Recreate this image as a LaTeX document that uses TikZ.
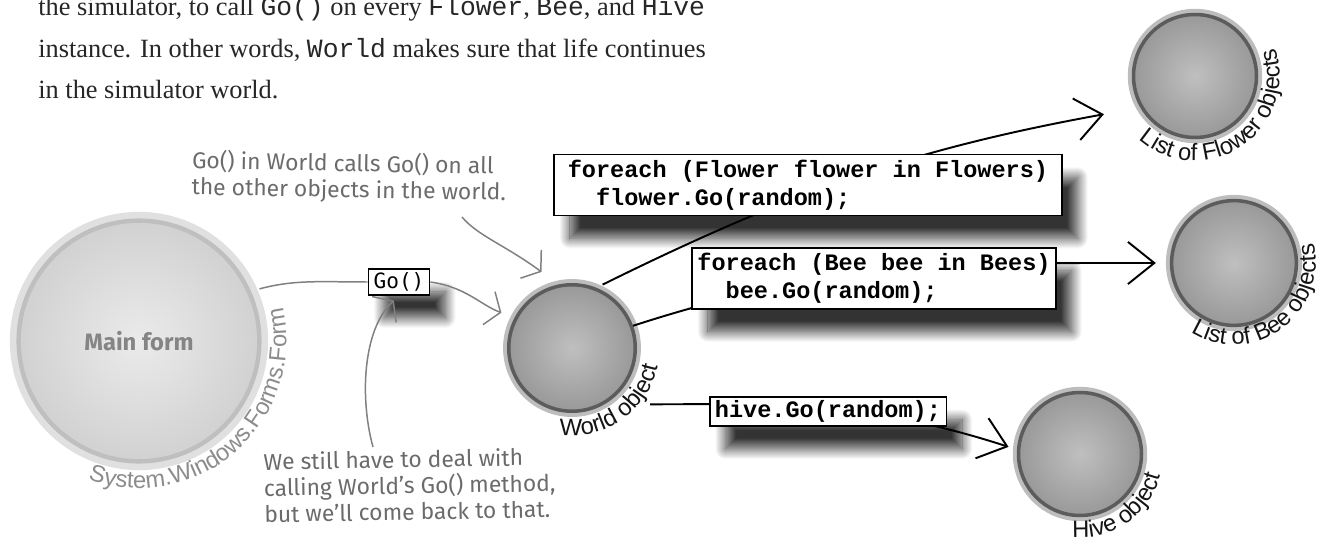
\documentclass[tikz,border=0pt]{standalone}
\usepackage{fontspec}
\setmainfont{Liberation Serif}
\setsansfont{Liberation Sans}
\setmonofont{Liberation Mono}
\newfontfamily\handfont{Fira Sans}
\newfontfamily\gofont{DejaVu Sans Mono}
\usetikzlibrary{arrows.meta, positioning, calc, shadows, shadows.blur, decorations.text}

\newcommand\arcfont{\sffamily\fontsize{13.5}{16}\selectfont}

\tikzset{%
   % grey object balls, with a dark rim and a soft halo round them
   objball/.style={
      circle,
      inner sep=0pt,
      minimum size=#1,
      inner color=black!25,
      outer color=black!40,
      draw=black!64,
      line width=2pt,
      preaction={draw=black!26, line width=6.5pt}
   },
   formball/.style={
      circle,
      inner sep=0pt,
      minimum size=#1,
      inner color=black!8,
      outer color=black!18,
      draw=black!25,
      line width=2.5pt,
      preaction={draw=black!12, line width=10pt},
      text=black!48,
      font=\handfont\bfseries\fontsize{13.5}{16}\selectfont
   },
   codebox/.style={
      draw=black,
      line width=0.9pt,
      fill=white,
      inner xsep=3pt,
      inner ysep=3pt,
      align=left,
      font=\ttfamily\bfseries\fontsize{13.4}{15.9}\selectfont,
      blur shadow={shadow xshift=9pt, shadow yshift=-13pt,
                   shadow blur radius=6pt, shadow blur steps=28,
                   shadow opacity=80}
   },
   gobox/.style={
      codebox,
      inner ysep=2pt,
      font=\gofont\fontsize{12}{14}\selectfont
   },
   booktext/.style={
      anchor=base west,
      inner sep=0pt,
      text=black!85,
      font=\fontsize{15}{23.5}\selectfont
   },
   note/.style={
      anchor=north west,
      inner sep=0pt,
      align=left,
      text=black!58,
      font=\handfont\fontsize{13}{14.9}\selectfont
   },
   callline/.style={draw=black!50, line width=0.85pt},
   callarrow/.style={callline, -{Straight Barb[length=7pt, width=20pt]}},
   codeline/.style={draw=black, line width=1.1pt},
   codearrow/.style={codeline, -{Straight Barb[length=15pt, width=24pt]}},
   arclabel/.style={
      decorate,
      decoration={text along path, text align=center, text color=black!92,
                  text={|\arcfont|#1}}
   },
   formlabel/.style={
      decorate,
      decoration={text along path, text align=center, text color=black!45,
                  text={|\arcfont|#1}}
   },
}

\begin{document}
\begin{tikzpicture}[x=0.02cm, y=0.02cm]
    \useasboundingbox (0,0) rectangle (1326,-544);
    \clip (0,0) rectangle (1326,-544);

    % page text above the picture
    \node[booktext] (para1) at (38,-16) {the simulator, to call \texttt{Go()} on every \texttt{Flower}, \texttt{Bee}, and \texttt{Hive}};
    \node[booktext] (para2) at (38,-58) {instance. In other words, \texttt{World} makes sure that life continues};
    \node[booktext] (para3) at (38,-99) {in the simulator world.};

    % objects
    \node[formball=137pt] (mainform) at (139,-341) {Main form};
    \node[objball=72pt] (world) at (572,-348) {};
    \node[objball=70pt] (flowers) at (1195,-76) {};
    \node[objball=71pt] (bees) at (1234,-263) {};
    \node[objball=70pt] (hive) at (1080,-454) {};

    \path[formlabel={System.Windows.Forms.Form}] ($(mainform)+(-120:83.9pt)$) arc[start angle=-120, end angle=23, radius=83.9pt];
    \path[arclabel={World object}] ($(world)+(-110:49.9pt)$) arc[start angle=-110, end angle=0, radius=49.9pt];
    \path[arclabel={List of Flower objects}] ($(flowers)+(-146:48.2pt)$) arc[start angle=-146, end angle=34, radius=48.2pt];
    \path[arclabel={List of Bee objects}] ($(bees)+(-136:46.5pt)$) arc[start angle=-136, end angle=28, radius=46.5pt];
    \path[arclabel={Hive object}] ($(hive)+(-110:47.6pt)$) arc[start angle=-110, end angle=0, radius=47.6pt];

    % World calls Go() on everything else
    \draw[codearrow, shorten <=4pt, shorten >=21pt] (world.68) to[bend left=8] (flowers.210);
    \draw[codearrow, shorten >=8pt] (world.20) to[out=18, in=180] (bees.west);
    \draw[codearrow, shorten <=26pt, shorten >=5pt] (world.-60) to[out=0, in=162] (hive.176);

    \node[codebox, minimum width=289pt] (flowerbox) at (808,-185) {foreach (Flower flower in Flowers)\\\phantom{xx}flower.Go(random);};
    \node[codebox] (beebox) at (874,-278.5) {foreach (Bee bee in Bees)\\\phantom{xx}bee.Go(random);};
    \node[codebox, inner ysep=2pt] (hivebox) at (828,-411.5) {hive.Go(random);};

    % the form calls Go() on the World
    \node[gobox] (gocall) at (399,-282) {Go()};
    \draw[callline, shorten <=5pt] (mainform.24) to[out=15, in=180] (gocall.west);
    \draw[callarrow, shorten >=8pt] (gocall.east) to[out=-8, in=160] (world.152);

    % handwritten notes
    \node[note, rotate=-1] (worldnote) at (192,-149) {Go() in World calls Go() on all\\the other objects in the world.};
    \node[note, rotate=1] (latenote) at (263,-452) {We still have to deal with\\calling World’s Go() method,\\but we’ll come back to that.};
    \coordinate (worldnotetail) at (462,-217);
    \coordinate (latenotetail) at (373,-447);
    \draw[callarrow, shorten >=12pt] (worldnotetail) .. controls (478,-236) and (505,-245) .. (world.102);
    \draw[callarrow, shorten >=4pt] (latenotetail) .. controls (360,-400) and (362,-330) .. (gocall.south);
\end{tikzpicture}
\end{document}
